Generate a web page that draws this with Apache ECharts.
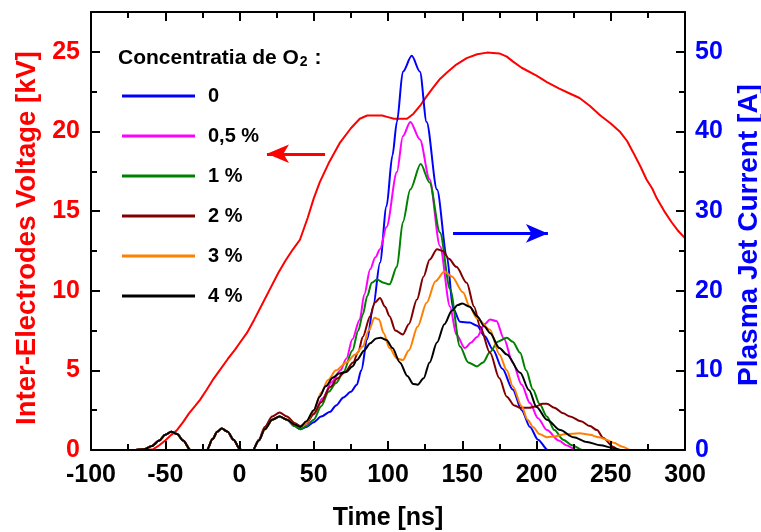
<!DOCTYPE html>
<html>
<head>
<meta charset="utf-8">
<script src="https://cdn.jsdelivr.net/npm/echarts@6/dist/echarts.min.js"></script>
<style>html,body{margin:0;padding:0;background:#fff}#c{width:761px;height:532px}</style>
</head>
<body>
<div id="c"></div>
<script>
// ---- tick labels / axis ranges ----
const timeTicks = [-100, -50, 0, 50, 100, 150, 200, 250, 300];
const voltTicks = [0, 5, 10, 15, 20, 25];
const currTicks = [0, 10, 20, 30, 40, 50];

// ---- voltage (kV) ----
const voltT = [-100,-62,-58,-54,-50,-46,-42,-38,-34,-30,-26.6,-22,-18,-13,-8,-3,0,5,10,15,20.5,26,31,36,40.7,46,50,54,60,67.7,75,81,86,96,100,104,112.8,117,121.5,126,130,135,139.7,146,153,160,166.7,175,180,184,190,200,207,215,222,229,236,243,250,256,261,265,270,274,278,281,286,291,295,300];
const voltV = [0,0,0.05,0.3,0.6,0.95,1.26,1.75,2.3,2.75,3.15,3.8,4.4,5.05,5.7,6.3,6.7,7.35,8.2,9.1,10.1,11.1,11.9,12.6,13.2,14.6,15.8,16.8,18,19.3,20.2,20.8,21.0,21.0,20.9,20.8,20.8,21.1,21.6,22.2,22.7,23.3,23.7,24.2,24.6,24.85,24.95,24.9,24.7,24.4,24.0,23.5,23.1,22.7,22.4,22.1,21.6,21.0,20.5,20.0,19.4,18.7,17.8,17.0,16.4,15.8,15.0,14.3,13.8,13.3];

// ---- plasma jet currents (A) ----
const seriesNames = ['0', '0,5 %', '1 %', '2 %', '3 %', '4 %'];

const c0T = [-100,-70,-64,-59,-54,-50,-46,-42,-38,-33,-28,-22,-18,-15,-12,-8,-4,0,4,9,13,17,22,27,32,37,41,45,50,55,61,65,70,75,79,82,86,90,94.6,99,103,106,110,116,121.5,126,133,139.7,143.8,148.5,155,160,165,170.7,177,184,190,195.6,201,207.7,212];
const c0V = [0,0,0.1,0.5,1.2,1.9,2.3,2.0,1.2,0,-1.8,0,1.4,2.3,2.7,2.3,1.3,0.2,-1.0,0,1.2,2.6,3.8,4.2,3.8,3.0,2.6,2.9,3.5,4.2,4.8,5.6,6.6,7.3,8.2,10,13.9,18,23.5,30.6,37,41.2,47.5,49.5,47.5,41.2,32.7,24.3,17.8,16.1,16,15.6,14.3,12.6,10.2,7.6,5,2.9,1.3,0,-0.5];

const c05T = [-100,-70,-64,-59,-54,-50,-46,-42,-38,-33,-28,-22,-18,-15,-12,-8,-4,0,4,9,13,17,22,27,32,37,41,45,50,56,62,68,72,76,81,84,88,91.5,94.6,99,106,110,115,121.5,128,135,141.8,146,151.8,156,160,165,168.7,173,178,184,190,195.6,201,207,215,220,227,231];
const c05V = [0,0,0.1,0.5,1.2,1.9,2.3,2.0,1.2,0,-1.5,0,1.4,2.3,2.7,2.3,1.3,0.2,-0.8,0,1.2,2.6,3.8,4.2,3.8,3.2,2.9,3.3,4.6,6.5,8.5,10,11.5,13.9,16.4,19.5,22.7,24.2,25.2,28,34.9,39.4,41.2,39,34,25.6,18,14.5,12.8,13.5,14.2,15.8,16.4,16.2,14,11,8.2,5.9,4,2.5,1.2,0.6,0,-0.5];

const c1T = [-100,-70,-64,-59,-54,-50,-46,-42,-38,-33,-28,-22,-18,-15,-12,-8,-4,0,4,9,13,17,22,27,32,37,41,45,50,55,60,65,70,76,80,83,86,89,92.6,97,101,106,110,115,122,128,135,141.8,148.5,154,159.9,164,168.7,174,180,184,189,193,197.6,202,207,212,218,224,231,235];
const c1V = [0,0,0.1,0.5,1.2,1.9,2.3,2.0,1.2,0,-1.5,0,1.4,2.3,2.7,2.3,1.3,0.2,-0.8,0,1.2,2.6,3.8,4.2,3.8,3.0,2.6,3.0,3.8,5.5,7.3,8.4,9.8,12.5,15,17,19.3,21,21.4,21,20.8,23,28.6,32.7,35.9,33.6,27.3,20.2,13,11,10.5,11,12.3,13.6,14.1,13.6,12.2,10,7.6,5.8,4.2,2.5,1.3,0.6,0,-0.5];

const c2T = [-100,-70,-64,-59,-54,-50,-46,-42,-38,-33,-28,-22,-18,-15,-12,-8,-4,0,4,9,13,17,22,27,32,37,41,45,50,55,61,66,71,76.5,80,83,88,91,94.6,98,101,105,110,114,119.5,124,128,133,137,141,146,153,158,162,168.7,175,180,185,189,195,200,204,207,212,218,222.6,230,236,240.7,245,251.6,255,258];
const c2V = [0,0,0.1,0.5,1.2,1.9,2.3,2.0,1.2,0,-1.5,0,1.4,2.3,2.7,2.3,1.3,0.2,-0.8,0,1.3,2.9,4.2,4.7,4.2,3.4,3.0,3.4,4.5,6,7.9,9,9.8,11,12.3,14.2,16.8,18.5,19.1,18,16.8,15,14.5,15.8,18.9,21.8,23.9,25.2,25,24,23,21,18,15.5,12.2,9,6.7,5.6,5.3,5.3,5.5,5.8,5.8,5.3,4.6,4.2,3.6,3,2.5,1.5,0.4,0,-0.3];

const c3T = [-100,-70,-64,-59,-54,-50,-46,-42,-38,-33,-28,-22,-18,-15,-12,-8,-4,0,4,9,13,17,22,27,32,37,41,45,50,55,59.6,65,72,78,83,87,91,94,97,101,106,110,114,120,126,132,138,143,150.5,155,160,168.7,175,180,184,190,194,197.6,202,207,212,220,229,236,242,247,252,258,263,266];
const c3V = [0,0,0.1,0.5,1.2,1.9,2.3,2.0,1.2,0,-1.5,0,1.4,2.3,2.7,2.3,1.3,0.2,-0.8,0,1.2,2.6,3.8,4.2,3.8,3.2,2.9,3.4,5,7.2,8.8,10,11,12,13,15,16.6,16.4,14.7,12.8,11.5,11.3,12.5,15.5,18.5,21.2,22.4,21.8,19.8,18,16.5,15.1,12,10,8.0,5.5,3.8,2.9,2.0,1.6,1.7,2.0,2.1,1.9,1.6,1.3,0.9,0.4,0,-0.3];

const c4T = [-100,-70,-64,-59,-54,-50,-46,-42,-38,-33,-28,-22,-18,-15,-12,-8,-4,0,4,9,13,17,22,27,32,37,41,45,50,54,58,63,67,72,76,79,84,88,92,95,99,103,108,113,117,120,124,128,133,138,143,147,150,155,160,165,168.7,175,180,189,195,200,207,216,225,234,243,251.6,257,260];
const c4V = [0,0,0.1,0.5,1.2,1.9,2.3,2.0,1.2,0,-1.5,0,1.4,2.3,2.7,2.3,1.3,0.2,-0.8,0,1.2,2.6,3.8,4.2,3.8,3.2,2.9,3.6,5,6.7,8.0,9.1,9.6,9.8,10.5,11.3,12.5,13.4,14,14.1,13.8,12.8,11,9.3,8.3,8.2,9,11,13.5,15.8,17.5,18.2,18.4,18,16.8,15.5,14.7,12.8,12,9.7,7.5,5.4,3.8,2.5,1.6,1.0,0.6,0.25,0,-0.3];

const currT = [c0T, c05T, c1T, c2T, c3T, c4T];
const currV = [c0V, c05V, c1V, c2V, c3V, c4V];
const currColors = ['#0000ff', '#ff00ff', '#008000', '#800000', '#ff8000', '#000000'];

// ---- annotation arrows (data coordinates) ----
const voltArrow = { from: [57.6, 18.6], to: [18.5, 18.6] };
const currArrow = { from: [143.8, 27.2], to: [207.7, 27.2] };

const FONT = '"Liberation Sans", Arial, Helvetica, sans-serif';
const pairs = (t, v) => t.map((x, i) => [x, v[i]]);

// axis extents and grid size (used to express tick lengths in data units)
const X_MIN = timeTicks[0], X_MAX = timeTicks[timeTicks.length - 1];
const YL_MAX = 27.5, YR_MAX = 55;
const GRID = { left: 91, right: 76, top: 12, bottom: 82 };
const PLOT_W = 761 - GRID.left - GRID.right, PLOT_H = 532 - GRID.top - GRID.bottom;
const MAJOR_PX = 9, MINOR_PX = 6;

const chart = echarts.init(document.getElementById('c'), null, { renderer: 'canvas' });

function axisBase(extra) {
  return Object.assign({
    nameMoveOverlap: false,
    axisLine: { show: true, onZero: false, lineStyle: { color: '#000', width: 2 } },
    axisTick: { show: true, inside: true, length: MAJOR_PX, lineStyle: { color: '#000', width: 2 } },
    minorTick: { show: true, splitNumber: 2, length: MINOR_PX, lineStyle: { color: '#000', width: 2 } },
    splitLine: { show: false },
    minorSplitLine: { show: false }
  }, extra);
}

// inward frame ticks expressed in data coordinates (drawn through the axes' scales)
const xPerPx = (X_MAX - X_MIN) / PLOT_W, ylPerPx = YL_MAX / PLOT_H, yrPerPx = YR_MAX / PLOT_H;
const tickLinesL = [], tickLinesR = [];
for (let i = 0; i <= 16; i++) {
  const x = X_MIN + i * 25, len = (i % 2 === 0 ? MAJOR_PX : MINOR_PX) * ylPerPx;
  tickLinesL.push([{ coord: [x, 0] }, { coord: [x, len] }]);
  tickLinesL.push([{ coord: [x, YL_MAX] }, { coord: [x, YL_MAX - len] }]);
}
for (let i = 0; i <= 10; i++) {
  const v = i * 2.5, len = (i % 2 === 0 ? MAJOR_PX : MINOR_PX) * xPerPx;
  tickLinesL.push([{ coord: [X_MIN, v] }, { coord: [X_MIN + len, v] }]);
}
for (let i = 0; i <= 10; i++) {
  const v = i * 5, len = (i % 2 === 0 ? MAJOR_PX : MINOR_PX) * xPerPx;
  tickLinesR.push([{ coord: [X_MAX, v] }, { coord: [X_MAX - len, v] }]);
}
function tickSeries(name, yIdx, lines) {
  return {
    name: name, type: 'line', xAxisIndex: 0, yAxisIndex: yIdx,
    data: [[X_MIN, 0]], symbol: 'none', clip: false, silent: true, z: 20,
    lineStyle: { opacity: 0 }, tooltip: { show: false },
    markLine: {
      silent: true, animation: false, symbol: ['none', 'none'], precision: 6,
      lineStyle: { color: '#000', width: 2, type: 'solid' },
      label: { show: false }, emphasis: { disabled: true },
      data: lines
    }
  };
}

const series = [{
  name: 'Voltage', type: 'line', yAxisIndex: 0, xAxisIndex: 0,
  data: pairs(voltT, voltV), symbol: 'none', clip: true,
  lineStyle: { color: '#ff0000', width: 2 }, itemStyle: { color: '#ff0000' },
  z: 2,
  markLine: {
    silent: true, animation: false,
    symbol: ['none', 'arrow'], symbolSize: [14, 22],
    lineStyle: { color: '#ff0000', width: 3, type: 'solid' },
    label: { show: false },
    data: [[{ coord: voltArrow.from }, { coord: voltArrow.to }]]
  }
}];

seriesNames.forEach((n, i) => {
  const s = {
    name: n, type: 'line', yAxisIndex: 1, xAxisIndex: 0,
    data: pairs(currT[i], currV[i]), symbol: 'none', clip: true,
    smooth: 0.3, smoothMonotone: 'x',
    lineStyle: { color: currColors[i], width: 2 }, itemStyle: { color: currColors[i] },
    z: 3 + i
  };
  if (i === 0) {
    s.markLine = {
      silent: true, animation: false,
      symbol: ['none', 'arrow'], symbolSize: [14, 22],
      lineStyle: { color: '#0000ff', width: 3, type: 'solid' },
      label: { show: false },
      data: [[{ coord: currArrow.from }, { coord: currArrow.to }]]
    };
  }
  series.push(s);
});
series.push(tickSeries('ticksL', 0, tickLinesL));
series.push(tickSeries('ticksR', 1, tickLinesR));

chart.setOption({
  animation: false,
  backgroundColor: '#fff',
  grid: { left: GRID.left, right: GRID.right, top: GRID.top, bottom: GRID.bottom, show: false, containLabel: false, outerBoundsMode: 'none' },
  legend: {
    data: seriesNames.map(n => ({ name: n, icon: 'rect' })),
    orient: 'vertical', left: 117, top: 81,
    itemWidth: 73, itemHeight: 3, itemGap: 20, selectedMode: false,
    textStyle: { fontFamily: FONT, fontSize: 20, fontWeight: 'bold', color: '#000', padding: [0, 0, 0, 8] }
  },
  graphic: [{
    type: 'text', left: 118, top: 48,
    style: {
      text: '{a|Concentratia de O}{s|2}{a| :}',
      rich: {
        a: { fontFamily: FONT, fontSize: 21, fontWeight: 'bold', fill: '#000', lineHeight: 24, verticalAlign: 'bottom' },
        s: { fontFamily: FONT, fontSize: 14, fontWeight: 'bold', fill: '#000', lineHeight: 24, verticalAlign: 'bottom', padding: [0, 1, 0, 1] }
      }
    }
  }],
  xAxis: [
    axisBase({
      type: 'value', min: X_MIN, max: X_MAX, interval: 50,
      position: 'bottom', z: 10,
      name: 'Time [ns]', nameLocation: 'middle', nameGap: 56,
      nameTextStyle: { fontFamily: FONT, fontSize: 25, fontWeight: 'bold', color: '#000' },
      axisLabel: { fontFamily: FONT, fontSize: 25, fontWeight: 'bold', color: '#000', margin: 13 }
    }),
    axisBase({
      type: 'value', min: X_MIN, max: X_MAX, interval: 50,
      position: 'top', z: 10, axisLabel: { show: false }
    })
  ],
  yAxis: [
    axisBase({
      type: 'value', min: voltTicks[0], max: YL_MAX, interval: 5, position: 'left', z: 10,
      name: 'Inter-Electrodes Voltage [kV]', nameLocation: 'middle', nameGap: 50, nameRotate: 90,
      nameTextStyle: { fontFamily: FONT, fontSize: 27.5, fontWeight: 'bold', color: '#ff0000', padding: [0, 14, 0, 0] },
      axisLabel: { fontFamily: FONT, fontSize: 25, fontWeight: 'bold', color: '#ff0000', margin: 11, showMaxLabel: false,
        formatter: v => (voltTicks.indexOf(v) >= 0 ? String(v) : '') }
    }),
    axisBase({
      type: 'value', min: currTicks[0], max: YR_MAX, interval: 10, position: 'right', z: 10,
      name: 'Plasma Jet Current [A]', nameLocation: 'middle', nameGap: 50, nameRotate: 90,
      nameTextStyle: { fontFamily: FONT, fontSize: 28, fontWeight: 'bold', color: '#0000ff', padding: [0, 8, 0, 0] },
      axisLabel: { fontFamily: FONT, fontSize: 25, fontWeight: 'bold', color: '#0000ff', margin: 10, showMaxLabel: false,
        formatter: v => (currTicks.indexOf(v) >= 0 ? String(v) : '') }
    })
  ],
  series: series
});
</script>
</body>
</html>
